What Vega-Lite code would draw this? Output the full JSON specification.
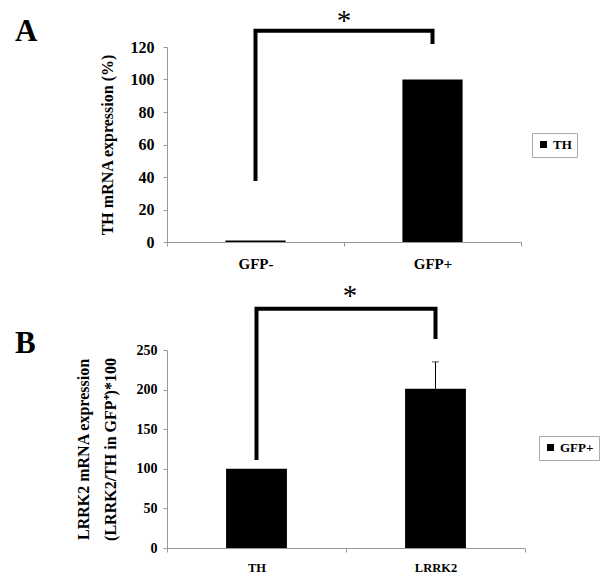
{
  "$schema": "https://vega.github.io/schema/vega-lite/v6.json",
  "background": "white",
  "padding": {"left": 15, "top": 6, "right": 5, "bottom": 5},
  "config": {
    "font": "Liberation Serif",
    "view": {"stroke": null},
    "axis": {
      "labelFont": "Liberation Serif", "labelFontWeight": "bold", "labelFontSize": 16, "labelColor": "black",
      "titleFont": "Liberation Serif", "titleFontWeight": "bold", "titleFontSize": 16, "titleColor": "black",
      "domainColor": "#999", "tickColor": "#999", "grid": false, "tickSize": 4, "labelOverlap": false
    },
    "legend": {
      "labelFont": "Liberation Serif", "labelFontWeight": "bold", "labelFontSize": 13, "labelColor": "black",
      "strokeColor": "#aaa", "padding": 5, "symbolType": "square", "symbolSize": 49, "labelOffset": 3,
      "symbolStrokeWidth": 0, "symbolFillColor": "black", "title": null
    },
    "title": {"font": "Liberation Serif", "fontWeight": "bold", "fontSize": 31, "color": "black"}
  },
  "spacing": 10,
  "resolve": {"scale": {"x": "independent", "y": "independent", "color": "independent"}},
  "vconcat": [
    {
      "width": 354,
      "height": 195,
      "title": {"text": "A", "anchor": "start", "frame": "group", "dx": -152, "offset": -41},
      "encoding": {
        "x": {"field": "group", "type": "nominal", "sort": ["GFP-", "GFP+"],
          "scale": {"paddingInner": 0, "paddingOuter": 0},
          "axis": {"title": null, "labelAngle": 0, "tickBand": "extent", "labelPadding": 10, "labelFontSize": 15}},
        "y": {"field": "value", "type": "quantitative",
          "scale": {"domain": [0, 120], "nice": false},
          "axis": {"values": [0, 20, 40, 60, 80, 100, 120], "labelOverlap": false, "title": "TH mRNA expression (%)", "labelPadding": 9, "titlePadding": 15}}
      },
      "layer": [
        {
          "data": {"values": [
            {"group": "GFP-", "value": 1, "series": "TH"},
            {"group": "GFP+", "value": 100, "series": "TH"}
          ]},
          "mark": {"type": "bar", "width": {"band": 0.34}, "color": "black"},
          "encoding": {
            "color": {"field": "series", "type": "nominal", "scale": {"range": ["black"]},
              "legend": {"orient": "none", "legendX": 365, "legendY": 86}}
          }
        },
        {
          "data": {"values": [
            {"group": "GFP-", "value": 37.5, "o": 1},
            {"group": "GFP-", "value": 130, "o": 2},
            {"group": "GFP+", "value": 130, "o": 3},
            {"group": "GFP+", "value": 121.8, "o": 4}
          ]},
          "mark": {"type": "line", "color": "black", "strokeWidth": 4, "clip": false, "strokeJoin": "miter", "strokeCap": "butt"},
          "encoding": {
            "order": {"field": "o"}
          }
        },
        {
          "data": {"values": [{"group": "GFP+", "value": 130, "label": "*"}]},
          "mark": {"type": "text", "fontSize": 29, "color": "black", "baseline": "alphabetic", "align": "center", "clip": false, "dy": -1},
          "encoding": {
            "x": {"field": "group", "type": "nominal", "sort": ["GFP-", "GFP+"], "bandPosition": 0},
            "text": {"field": "label"}
          }
        }
      ]
    },
    {
      "width": 358,
      "height": 198,
      "title": {"text": "B", "anchor": "start", "frame": "group", "dx": -152, "offset": -78},
      "encoding": {
        "x": {"field": "group", "type": "nominal", "sort": ["TH", "LRRK2"],
          "scale": {"paddingInner": 0, "paddingOuter": 0},
          "axis": {"title": null, "labelAngle": 0, "tickBand": "extent", "labelPadding": 9, "labelFontSize": 12.5}},
        "y": {"field": "value", "type": "quantitative",
          "scale": {"domain": [0, 250], "nice": false},
          "axis": {"values": [0, 50, 100, 150, 200, 250], "labelOverlap": false, "labelFontSize": 14, "title": ["LRRK2 mRNA expression", "(LRRK2/TH in GFP⁺)*100"], "titleLineHeight": 27, "labelPadding": 6, "titlePadding": 18}}
      },
      "layer": [
        {
          "data": {"values": [
            {"group": "TH", "value": 100, "series": "GFP+"},
            {"group": "LRRK2", "value": 201, "upper": 235, "series": "GFP+"}
          ]},
          "layer": [
            {
              "mark": {"type": "rule", "color": "black", "strokeWidth": 1},
              "encoding": {"y2": {"field": "upper"}}
            },
            {
              "mark": {"type": "tick", "color": "black", "thickness": 1, "size": 7},
              "encoding": {"y": {"field": "upper", "type": "quantitative"}}
            },
            {
              "mark": {"type": "bar", "width": {"band": 0.34}, "color": "black"},
              "encoding": {
                "color": {"field": "series", "type": "nominal", "scale": {"range": ["black"]},
                  "legend": {"orient": "none", "legendX": 372, "legendY": 86}}
              }
            }
          ]
        },
        {
          "data": {"values": [
            {"group": "TH", "value": 111, "o": 1},
            {"group": "TH", "value": 302, "o": 2},
            {"group": "LRRK2", "value": 302, "o": 3},
            {"group": "LRRK2", "value": 264, "o": 4}
          ]},
          "mark": {"type": "line", "color": "black", "strokeWidth": 4, "clip": false, "strokeJoin": "miter", "strokeCap": "butt"},
          "encoding": {
            "order": {"field": "o"}
          }
        },
        {
          "data": {"values": [{"group": "LRRK2", "value": 307, "label": "*"}]},
          "mark": {"type": "text", "fontSize": 29, "color": "black", "baseline": "alphabetic", "align": "center", "clip": false, "dx": 4, "dy": 0},
          "encoding": {
            "x": {"field": "group", "type": "nominal", "sort": ["TH", "LRRK2"], "bandPosition": 0},
            "text": {"field": "label"}
          }
        }
      ]
    }
  ]
}
